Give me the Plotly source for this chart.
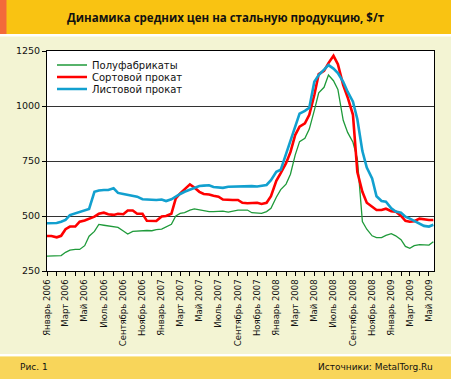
import pandas as pd
import plotly.graph_objects as go

# ---- data (semi-monthly readings, USD per tonne) ----
dates = pd.date_range("2006-01-01", "2009-05-15", freq="SMS")

series_names = ["Полуфабрикаты", "Сортовой прокат", "Листовой прокат"]

semis = [318, 318, 318, 320, 335, 345, 348, 348, 365, 408,
         430, 462, 458, 455, 452, 448, 432, 418, 430, 432,
         432, 434, 433, 438, 440, 450, 462, 500, 512, 515,
         527, 532, 528, 522, 520, 520, 520, 522, 518, 523,
         527, 527, 527, 515, 512, 512, 520, 535, 585, 620,
         645, 690, 777, 838, 853, 895, 980, 1060, 1085, 1141,
         1115, 1075, 935, 880, 835, 760, 475, 440, 410, 402,
         402, 412, 420, 410, 392, 362, 353, 365, 370, 368,
         368, 383]

long_products = [409, 409, 403, 410, 440, 452, 452, 474, 480, 488,
                 497, 510, 515, 508, 505, 510, 508, 525, 525, 510,
                 510, 478, 477, 477, 498, 500, 510, 580, 603, 620,
                 644, 630, 610, 600, 598, 592, 588, 575, 573, 573,
                 573, 560, 558, 558, 560, 555, 560, 590, 660, 695,
                 740, 790, 868, 906, 921, 960, 1050, 1145, 1160, 1195,
                 1228, 1190, 1095, 1040, 960, 700, 610, 560, 540, 527,
                 527, 533, 522, 520, 500, 478, 474, 476, 488, 484,
                 482, 482]

flat_products = [467, 467, 468, 474, 482, 504, 512, 517, 524, 532,
                 610, 616, 618, 618, 626, 605, 600, 596, 594, 588,
                 576, 574, 573, 573, 575, 568, 576, 590, 600, 610,
                 620, 630, 636, 638, 640, 632, 630, 628, 633, 634,
                 636, 636, 636, 636, 634, 636, 641, 663, 701, 710,
                 780, 840, 900, 965, 978, 992, 1110, 1141, 1165, 1186,
                 1170, 1150, 1110, 1065, 1020, 940, 795, 720, 671, 590,
                 568, 565, 535, 520, 515, 497, 488, 478, 468, 455,
                 452, 460]

tick_dates = ["2006-01-01", "2006-03-01", "2006-05-01", "2006-07-01", "2006-09-01", "2006-11-01",
              "2007-01-01", "2007-03-01", "2007-05-01", "2007-07-01", "2007-09-01", "2007-11-01",
              "2008-01-01", "2008-03-01", "2008-05-01", "2008-07-01", "2008-09-01", "2008-11-01",
              "2009-01-01", "2009-03-01", "2009-05-01"]
tick_labels = ["Январь 2006", "Март 2006", "Май 2006", "Июль 2006", "Сентябрь 2006", "Ноябрь 2006",
               "Январь 2007", "Март 2007", "Май 2007", "Июль 2007", "Сентябрь 2007", "Ноябрь 2007",
               "Январь 2008", "Март 2008", "Май 2008", "Июль 2008", "Сентябрь 2008", "Ноябрь 2008",
               "Январь 2009", "Март 2009", "Май 2009"]
y_ticks = [250, 500, 750, 1000, 1250]

title_text = "Динамика средних цен на стальную продукцию, $/т"
fig_label = "Рис. 1"
source_text = "Источники: MetalTorg.Ru"

# ---- layout geometry (pixels) ----
W, H = 451, 379
L, R, T, B = 47, 434, 51, 271


def px(x):
    return (x - L) / (R - L)


def py(y):
    return (B - y) / (B - T)


FONT = "DejaVu Sans"
colors = ["#1f9a3a", "#ff0000", "#12a0cf"]
widths = [1.3, 2.6, 2.6]
values = [semis, long_products, flat_products]
legend_ids = ["legend", "legend2", "legend3"]
legend_rows = [65, 77, 89]

fig = go.Figure()
for name, vals, c, w, lid in zip(series_names, values, colors, widths, legend_ids):
    fig.add_trace(go.Scatter(x=dates, y=vals, mode="lines", name=name,
                             line=dict(color=c, width=w), legend=lid,
                             hoverinfo="skip"))

legend_cfg = {}
for lid, row in zip(legend_ids, legend_rows):
    legend_cfg[lid] = dict(x=px(52), xanchor="left", y=py(row), yanchor="middle",
                           bgcolor="rgba(0,0,0,0)", borderwidth=0,
                           font=dict(family=FONT, size=10, color="#111"),
                           itemwidth=30)

shapes = [
    # title band
    dict(type="rect", xref="paper", yref="paper", x0=px(0), x1=px(W), y0=py(0), y1=py(34),
         fillcolor="#f9c312", line=dict(width=0), layer="below"),
    dict(type="rect", xref="paper", yref="paper", x0=px(0), x1=px(6.5), y0=py(0), y1=py(34),
         fillcolor="#f36a3a", line=dict(width=0), layer="below"),
    dict(type="rect", xref="paper", yref="paper", x0=px(0), x1=px(W), y0=py(34), y1=py(36.5),
         fillcolor="#ffffff", line=dict(width=0), layer="below"),
    # footer band
    dict(type="rect", xref="paper", yref="paper", x0=px(0), x1=px(W), y0=py(354), y1=py(356.5),
         fillcolor="#ffffff", line=dict(width=0), layer="below"),
    dict(type="rect", xref="paper", yref="paper", x0=px(0), x1=px(W), y0=py(356.5), y1=py(H),
         fillcolor="#f8d55a", line=dict(width=0), layer="below"),
]

annotations = [
    dict(text="<b>" + title_text + "</b>", xref="paper", yref="paper", x=px(226), y=py(17.5),
         xanchor="center", yanchor="middle", showarrow=False,
         font=dict(family="Open Sans", size=11.5, color="#111")),
    dict(text=fig_label, xref="paper", yref="paper", x=px(18), y=py(367),
         xanchor="left", yanchor="middle", showarrow=False,
         font=dict(family=FONT, size=9, color="#111")),
    dict(text=source_text, xref="paper", yref="paper", x=px(435), y=py(367),
         xanchor="right", yanchor="middle", showarrow=False,
         font=dict(family=FONT, size=9, color="#111")),
]

fig.update_layout(
    width=W, height=H,
    margin=dict(l=L, r=W - R, t=T, b=H - B, pad=0),
    paper_bgcolor="#f3f4d3",
    plot_bgcolor="#ffffff",
    showlegend=True,
    shapes=shapes,
    annotations=annotations,
    **legend_cfg,
)

fig.update_xaxes(
    type="date", range=["2006-01-01", "2009-05-17"],
    tickmode="array", tickvals=tick_dates, ticktext=tick_labels, tickangle=-90,
    ticks="outside", ticklen=4, tickcolor="#000", tickwidth=1,
    minor=dict(dtick="M1", tick0="2006-01-01", ticks="outside", ticklen=4, tickcolor="#000", showgrid=False),
    showgrid=False, showline=True, linecolor="#000", linewidth=1, mirror=True,
    tickfont=dict(family=FONT, size=8.5, color="#111"), zeroline=False,
)
fig.update_yaxes(
    range=[250, 1250], tickmode="array", tickvals=y_ticks,
    ticks="outside", ticklen=4, tickcolor="#000",
    showgrid=True, gridcolor="#333", gridwidth=1,
    showline=True, linecolor="#000", linewidth=1, mirror=True,
    tickfont=dict(family=FONT, size=9.5, color="#111"), zeroline=False,
)

fig.write_html(
    "out.html",
    config={"displayModeBar": False, "staticPlot": True},
    post_script="document.body.style.margin='0';document.body.style.background='#f3f4d3';",
)
